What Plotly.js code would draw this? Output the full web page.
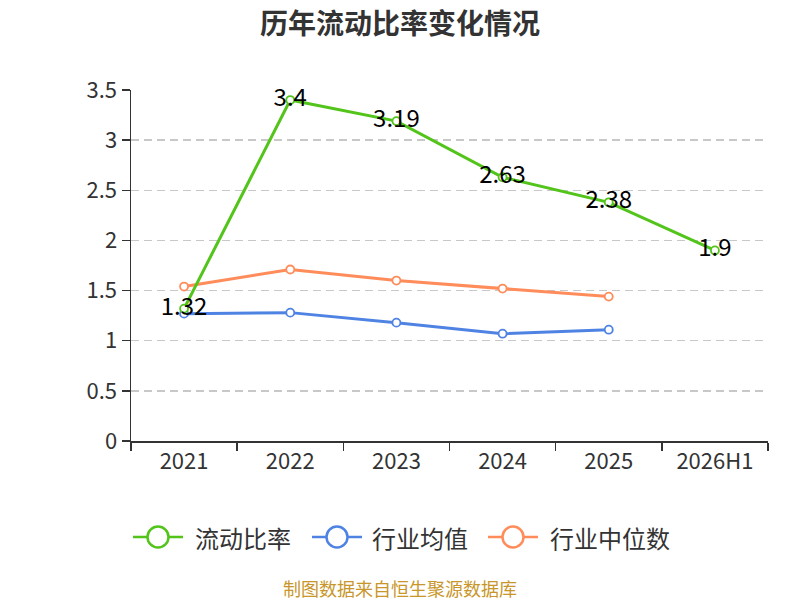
<!DOCTYPE html>
<html><head><meta charset="utf-8">
<script src="https://cdn.plot.ly/plotly-3.0.1.min.js"></script>
<style>html,body{margin:0;padding:0;background:#fff}#c{width:800px;height:600px}</style>
</head><body><div id="c"></div>
<script>
const categories = ['2021','2022','2023','2024','2025','2026H1'];
const currentRatio = [1.32, 3.4, 3.19, 2.63, 2.38, 1.9];
const industryMean = [1.27, 1.28, 1.18, 1.07, 1.11];
const industryMedian = [1.54, 1.71, 1.60, 1.52, 1.44];
const seriesNames = ['流动比率','行业均值','行业中位数'];
const seriesColors = ['#52c41a','#4f83e3','#ff8c5a'];
const FONT = '"Noto Sans CJK SC", "Noto Sans", sans-serif';

// plot area geometry (pixels)
const L = 131, R = 768, T = 90, B = 441;
const px2x = p => (p - L) / (R - L);
const py2y = p => (B - p) / (B - T);

function mk(i, y, withText){
  const color = seriesColors[i];
  return {
    type:'scatter', mode: withText ? 'lines+markers+text' : 'lines+markers',
    name:seriesNames[i], x:categories.slice(0,y.length), y:y,
    text: withText ? y.map(String) : undefined,
    textposition:'middle center',
    textfont:{family:FONT,size:24,color:'#000'},
    line:{color:color,width:3},
    marker:{symbol:'circle',size:8,color:'#fff',line:{color:color,width:1.8}},
    cliponaxis:false, showlegend:false
  };
}
const data = [
  mk(1, industryMean, false),
  mk(2, industryMedian, false),
  mk(0, currentRatio, true)
];

// custom legend (layout only)
const legendLineStart = [133, 312, 488];
const legendTextStart = [193, 370, 548];
const legendY = 537;
const shapes = [], annotations = [];
seriesNames.forEach((n,i)=>{
  const x0 = legendLineStart[i];
  shapes.push({type:'line', xref:'paper', yref:'paper', x0:px2x(x0), x1:px2x(x0+50),
               y0:py2y(legendY), y1:py2y(legendY), line:{color:seriesColors[i], width:2.5}});
  const cx = x0 + 25, r = 10.5;
  shapes.push({type:'circle', xref:'paper', yref:'paper', x0:px2x(cx-r), x1:px2x(cx+r),
               y0:py2y(legendY+r), y1:py2y(legendY-r), fillcolor:'#fff', line:{color:seriesColors[i], width:2.5}});
  annotations.push({text:n, xref:'paper', yref:'paper', x:px2x(legendTextStart[i]), y:py2y(legendY),
                    xanchor:'left', yanchor:'middle', showarrow:false,
                    font:{family:FONT,size:24,color:'#333'}});
});
annotations.push({text:'制图数据来自恒生聚源数据库', xref:'paper', yref:'paper', x:px2x(400), y:py2y(588),
                  xanchor:'center', yanchor:'middle', showarrow:false,
                  font:{family:FONT,size:18,color:'#c8962a'}});

const layout = {
  width:800, height:600,
  margin:{l:L,r:800-R,t:T,b:600-B},
  paper_bgcolor:'#fff', plot_bgcolor:'#fff',
  font:{family:FONT,color:'#333'},
  title:{text:'<b>历年流动比率变化情况</b>', x:0.5, xanchor:'center', y:1-24/600, yanchor:'middle',
         font:{family:FONT,size:28,color:'#333'}},
  xaxis:{type:'category', categoryorder:'array', categoryarray:categories,
         range:[-0.5,5.5], tickson:'boundaries', ticks:'outside', ticklen:8, tickcolor:'#333', tickwidth:1.5,
         showline:true, linecolor:'#333', linewidth:1.5, showgrid:false, zeroline:false,
         tickfont:{family:FONT,size:22,color:'#333'}},
  yaxis:{range:[0,3.5], dtick:0.5, ticks:'outside', ticklen:8, tickcolor:'#333', tickwidth:1.5,
         showline:true, linecolor:'#333', linewidth:1.5, showgrid:true, gridcolor:'#c8c8c8', griddash:'8px,5px', gridwidth:1.5,
         zeroline:false, tickfont:{family:FONT,size:22,color:'#333'}},
  showlegend:false,
  shapes:shapes,
  annotations:annotations
};
Plotly.newPlot('c', data, layout, {displayModeBar:false, staticPlot:true});
</script></body></html>
